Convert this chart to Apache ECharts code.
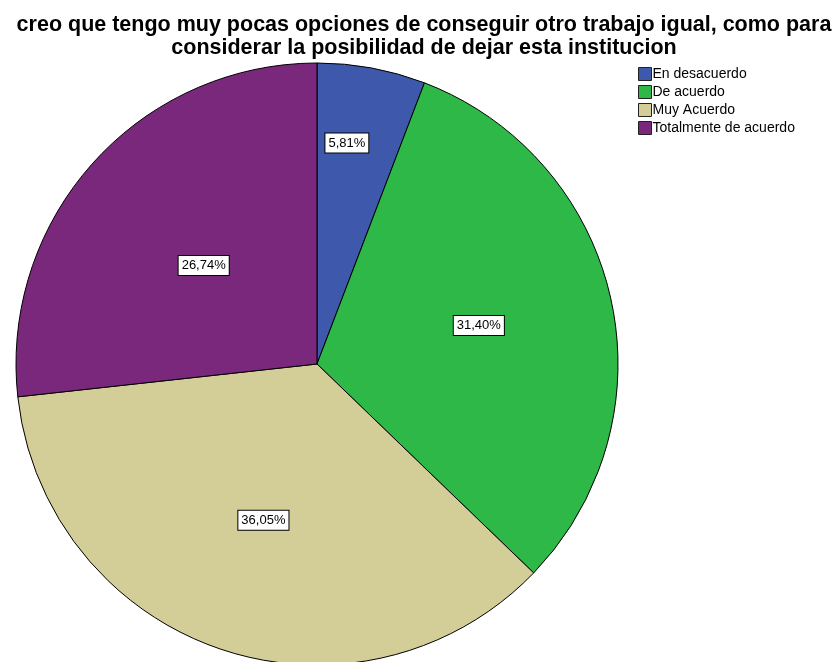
<!DOCTYPE html>
<html>
<head>
<meta charset="utf-8">
<script src="https://cdn.jsdelivr.net/npm/echarts@6/dist/echarts.min.js"></script>
<style>
  html, body { margin: 0; padding: 0; background: #fff; }
  #main { width: 832px; height: 662px; }
</style>
</head>
<body>
<div id="main"></div>
<script>
// categorias y porcentajes
const categorias = ['En desacuerdo', 'De acuerdo', 'Muy Acuerdo', 'Totalmente de acuerdo'];
const porcentajes = [5.81, 31.40, 36.05, 26.74];
const colores = ['#3E58AC', '#2EB848', '#D3CE97', '#7A287C'];

let datos = [];
for (let i = 0; i < categorias.length; i++) {
  datos.push({ name: categorias[i], value: porcentajes[i] });
}

let myChart = echarts.init(document.getElementById('main'));
let option = {
  color: colores,
  animation: false,
  title: {
    text: 'creo que tengo muy pocas opciones de conseguir otro trabajo igual, como para\nconsiderar la posibilidad de dejar esta institucion',
    left: 419,
    textAlign: 'center',
    top: 9,
    textStyle: {
      fontFamily: 'Liberation Sans',
      fontWeight: 'bold',
      fontSize: 21.5,
      lineHeight: 22.5,
      color: '#000'
    }
  },
  legend: {
    orient: 'vertical',
    left: 633,
    top: 62,
    itemWidth: 13,
    itemHeight: 13,
    itemGap: 4,
    icon: 'rect',
    itemStyle: { borderColor: '#222', borderWidth: 1 },
    textStyle: { fontFamily: 'Liberation Sans', fontSize: 14, color: '#000', padding: [0, 0, 0, -4] },
    data: categorias
  },
  series: [{
    type: 'pie',
    center: [317, 364],
    radius: 301,
    startAngle: 90,
    clockwise: true,
    label: {
      show: true,
      position: 'inside',
      formatter: function (p) {
        return p.value.toFixed(2).replace('.', ',') + '%';
      },
      fontFamily: 'Liberation Sans',
      fontSize: 13,
      color: '#000',
      backgroundColor: '#fff',
      borderColor: '#000',
      borderWidth: 1,
      padding: [3, 3, 3, 3]
    },
    labelLayout: function (params) {
      // la porcion pequeña lleva la etiqueta mas afuera
      if (params.dataIndex === 0) {
        return { dx: 2, dy: -70 };
      }
      if (params.dataIndex === 1) {
        return { dx: 12, dy: -5 };
      }
      if (params.dataIndex === 2) {
        return { dx: -4, dy: 11 };
      }
      return { dx: 1, dy: 4 };
    },
    labelLine: { show: false },
    itemStyle: { borderColor: '#000', borderWidth: 1 },
    emphasis: { disabled: true },
    data: datos
  }]
};
myChart.setOption(option);
</script>
</body>
</html>
